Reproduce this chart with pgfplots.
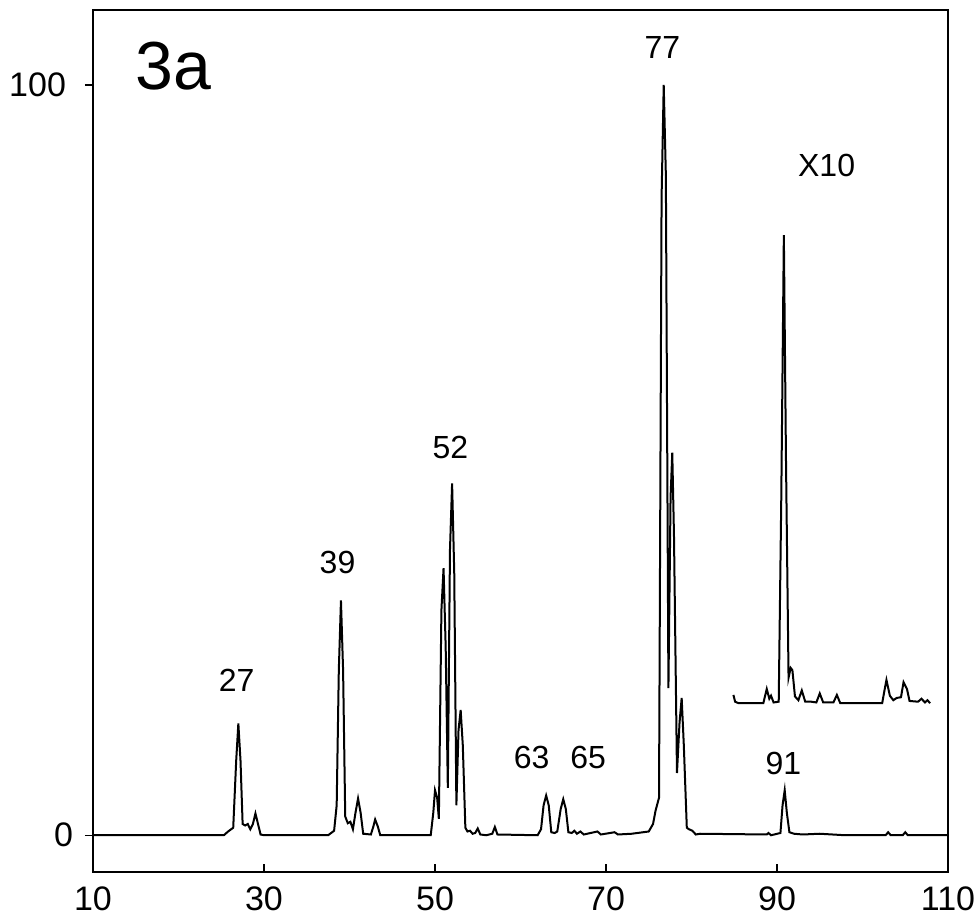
\documentclass[border=0pt]{standalone}
\usepackage{fontspec}
\setmainfont{Liberation Sans}
\usepackage{pgfplots}
\pgfplotsset{compat=1.18}

\begin{document}
\begin{tikzpicture}
\path[use as bounding box] (-46.5pt,-24.5pt) rectangle (442.5pt,436pt);
\begin{axis}[
    scale only axis,
    width=427.5pt, height=431pt,
    xmin=10, xmax=110, ymin=-4.9, ymax=110,
    xtick={10,30,50,70,90,110},
    ytick={0,100},
    yticklabels={0\kern-3.5pt, 100},
    xtick pos=bottom, ytick pos=left,
    xtick align=inside, ytick align=outside,
    major tick length=4pt,
    axis line style={line width=0.8pt},
    every tick/.style={black, line width=0.6pt},
    tick label style={font=\fontsize{17}{17}\selectfont},
    xticklabel style={yshift=-4pt},
    yticklabel style={xshift=-6pt},
    /pgf/number format/assume math mode=true,
    clip=false,
]
% main spectrum
\addplot[black, line width=1pt] coordinates {
    (10,0) (25.3,0) (25.8,0.5)
    (26.4,1) (26.75,10) (27,14.9) (27.25,10) (27.5,1.5)
    (27.8,1.3) (28.1,1.5) (28.4,0.8)
    (28.7,1.5) (29,2.9) (29.3,1.5) (29.6,0.1)
    (30,0) (37.5,0) (38.2,0.6)
    (38.5,4) (38.75,22) (39,31.3) (39.25,22) (39.5,2.5)
    (39.8,1.6) (40.1,1.8) (40.4,0.8)
    (40.7,3) (41,4.9) (41.3,3) (41.6,0.2)
    (42.5,0.1) (42.8,1.2) (43,2.1) (43.3,1.2) (43.6,0)
    (49.5,0) (49.8,3) (50,6) (50.25,5) (50.45,2.2)
    (50.75,30) (51,35.6) (51.25,25) (51.5,6.3)
    (51.75,38) (52,46.9) (52.25,35) (52.5,4)
    (52.75,14) (53,16.7) (53.25,12) (53.55,1)
    (53.8,0.5) (54.1,0.6) (54.4,0.2) (54.7,0.3) (55,0.9) (55.3,0.1)
    (56,0) (56.7,0.2) (57,1.1) (57.3,0.1) (62,0)
    (62.4,0.8) (62.7,4) (63,5.3) (63.3,4) (63.6,0.4)
    (64,0.3) (64.3,0.5)
    (64.7,3.5) (65,4.8) (65.3,3.5) (65.6,0.4)
    (66,0.3) (66.3,0.6) (66.6,0.2) (67,0.5) (67.4,0.1) (69,0.5) (69.4,0.1)
    (71,0.4) (71.4,0.1) (73,0.2) (75,0.5)
    (75.5,1.5) (75.8,3.3) (76.2,5)
    (76.5,85) (76.75,100) (77,88) (77.3,19.6)
    (77.55,45) (77.75,51) (77.95,40) (78.3,8.3)
    (78.6,15) (78.85,18.3) (79.1,12) (79.45,1)
    (79.7,0.8) (80.1,0.6) (80.5,0.1) (81,0.2) (88.8,0.1) (89,0.3) (89.3,0)
    (90.4,0.3) (90.65,4) (90.9,6) (91.15,3) (91.45,0.4)
    (92,0.2) (93,0.1) (95,0.2) (98,0) (102.7,0) (103,0.4) (103.3,0)
    (104.7,0) (105,0.4) (105.3,0) (110,0)
};
% x10 expansion
\addplot[black, line width=1pt] coordinates {
    (84.9,18.7) (85.1,17.8) (85.5,17.6) (88.4,17.6) (88.8,19.5) (89.1,18.2)
    (89.3,18.6) (89.6,17.7) (90.2,17.8) (90.5,45) (90.8,80) (91.05,50)
    (91.35,21) (91.6,22.3) (91.8,22) (92.1,18.5) (92.5,18.0) (92.9,19.3)
    (93.3,17.8) (94,17.8) (94.6,17.7) (95,18.9) (95.4,17.7) (96.6,17.7)
    (97,18.7) (97.4,17.6) (102.3,17.6) (102.6,19.5) (102.8,20.7) (103.2,18.6)
    (103.6,18.0) (104,18.3) (104.5,18.4) (104.8,20.4) (105.2,19.5) (105.5,17.9)
    (106.5,17.8) (106.9,18.2) (107.3,17.7) (107.6,18.0) (107.9,17.6)
};
\begin{scope}[every node/.style={font=\fontsize{16}{16}\selectfont}]
\node at (axis cs:26.8,20.7) {27};
\node at (axis cs:38.6,36.3) {39};
\node at (axis cs:51.8,51.7) {52};
\node at (axis cs:61.3,10.3) {63};
\node at (axis cs:67.9,10.3) {65};
\node at (axis cs:76.6,105) {77};
\node at (axis cs:95.8,89.3) {X10};
\node at (axis cs:90.75,9.6) {91};
\end{scope}
\node[anchor=west, font=\fontsize{34}{34}\selectfont] at (axis cs:14.2,102.5) {3a};
\end{axis}
\end{tikzpicture}
\end{document}
